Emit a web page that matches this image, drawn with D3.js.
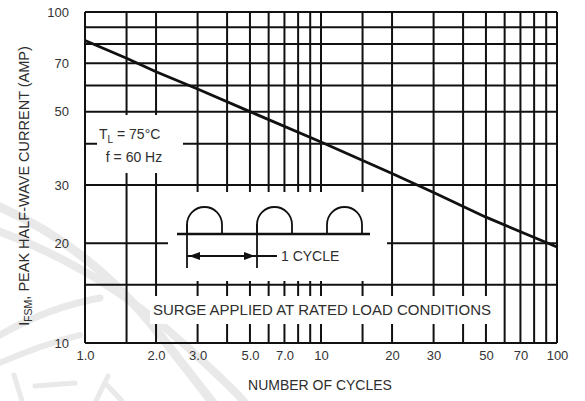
<!DOCTYPE html>
<html>
<head>
<meta charset="utf-8">
<script src="https://cdn.jsdelivr.net/npm/d3@7"></script>
<style>
  html, body { margin: 0; padding: 0; background: #fff; }
  svg { display: block; font-family: "Liberation Sans", Arial, sans-serif; }
</style>
</head>
<body>
<svg id="chart" width="585" height="401"></svg>
<script>
// Surge current vs. number of cycles (log-log)
const cycles = [1, 1.5, 2, 3, 5, 10, 20, 30, 50, 100];
const peakAmps = [82, 72.5, 66, 58.5, 50, 40.5, 32.5, 28.5, 24, 19.5];

const xGridValues = [1, 1.5, 2, 3, 4, 5, 6, 7, 8, 9, 10, 15, 20, 30, 40, 50, 60, 70, 80, 90, 100];
const yGridValues = [10, 15, 20, 30, 40, 50, 60, 70, 80, 90, 100];
const xTickValues = [1, 2, 3, 5, 7, 10, 20, 30, 50, 70, 100];
const xTickLabels = ["1.0", "2.0", "3.0", "5.0", "7.0", "10", "20", "30", "50", "70", "100"];
const yTickValues = [10, 20, 30, 50, 70, 100];
const yTickLabels = ["10", "20", "30", "50", "70", "100"];

const svg = d3.select("#chart");
const x = d3.scaleLog().domain([1, 100]).range([85, 557]);
const y = d3.scaleLog().domain([10, 100]).range([343, 12]);

// faint background watermark strokes
const wm = svg.append("g").attr("fill", "none").attr("stroke", "#e9e9e9").attr("stroke-linecap", "round");
wm.append("path").attr("d", "M-5,205 Q90,245 160,335 T215,405").attr("stroke-width", 9);
wm.append("path").attr("d", "M-5,230 Q100,268 185,345 T240,405").attr("stroke-width", 8);
wm.append("path").attr("d", "M-5,338 Q45,308 100,298").attr("stroke-width", 7);
wm.append("path").attr("d", "M-5,365 Q40,345 80,335").attr("stroke-width", 6);
wm.append("path").attr("d", "M35,386 L75,383").attr("stroke-width", 5);
wm.append("path").attr("d", "M108,376 L96,401 M106,384 L122,401").attr("stroke-width", 5);
wm.append("path").attr("d", "M14,375 L22,401").attr("stroke-width", 5);

// grid
const grid = svg.append("g").attr("stroke", "#111").attr("stroke-width", 2);
grid.selectAll("line.v").data(xGridValues).join("line")
  .attr("x1", d => x(d)).attr("x2", d => x(d))
  .attr("y1", y(100)).attr("y2", y(10));
grid.selectAll("line.h").data(yGridValues).join("line")
  .attr("x1", x(1)).attr("x2", x(100))
  .attr("y1", d => y(d)).attr("y2", d => y(d));

// white panels behind annotations
const panels = [
  [97, 115, 86, 58],    // test conditions
  [168, 192, 219, 89],  // waveform sketch
  [150, 296, 346, 28]   // surge note
];
svg.append("g").selectAll("rect").data(panels).join("rect")
  .attr("x", d => d[0]).attr("y", d => d[1]).attr("width", d => d[2]).attr("height", d => d[3])
  .attr("fill", "#fff");

// curve
svg.append("path")
  .datum(cycles.map((c, i) => [c, peakAmps[i]]))
  .attr("fill", "none").attr("stroke", "#111").attr("stroke-width", 2.8)
  .attr("d", d3.line().x(d => x(d[0])).y(d => y(d[1])));

// axes (labels only; grid provides the frame)
const xAxis = d3.axisBottom(x).tickValues(xTickValues)
  .tickFormat((d, i) => xTickLabels[i]).tickSize(0).tickPadding(8);
const gx = svg.append("g").attr("transform", `translate(0,${y(10)})`).call(xAxis);
const yAxis = d3.axisLeft(y).tickValues(yTickValues)
  .tickFormat((d, i) => yTickLabels[i]).tickSize(0).tickPadding(16);
const gy = svg.append("g").attr("transform", `translate(${x(1)},0)`).call(yAxis);
[gx, gy].forEach(g => {
  g.select(".domain").remove();
  g.selectAll("text").attr("font-size", 13).attr("fill", "#333")
    .attr("font-family", "'Liberation Sans', Arial, sans-serif");
});

const textColor = "#2e2e2e";

// axis titles
svg.append("text").attr("x", 320).attr("y", 390).attr("text-anchor", "middle")
  .attr("font-size", 14).attr("fill", textColor).text("NUMBER OF CYCLES");

const yt = svg.append("text").attr("transform", "translate(29,186) rotate(-90)")
  .attr("text-anchor", "middle").attr("font-size", 14.5).attr("fill", textColor);
yt.append("tspan").text("I");
yt.append("tspan").attr("font-size", 10.5).attr("dy", 3).text("FSM");
yt.append("tspan").attr("dy", -3).text(", PEAK HALF-WAVE CURRENT (AMP)");

// test conditions
const t1 = svg.append("text").attr("x", 99).attr("y", 139).attr("font-size", 14).attr("fill", textColor);
t1.append("tspan").text("T");
t1.append("tspan").attr("font-size", 10).attr("dy", 4).text("L");
t1.append("tspan").attr("dy", -4).text(" = 75°C");
svg.append("text").attr("x", 134).attr("y", 162).attr("text-anchor", "middle")
  .attr("font-size", 14).attr("fill", textColor).text("f = 60 Hz");

// waveform sketch: half-wave pulses on a baseline
const wave = svg.append("g").attr("fill", "none").attr("stroke", "#111").attr("stroke-width", 1.8);
const baseY = 234, pulseW = 35, pulseH = 27, period = 70, startX = 187;
wave.append("line").attr("x1", 177).attr("x2", 370).attr("y1", baseY).attr("y2", baseY).attr("stroke-width", 2.4);
[0, 1, 2].forEach(k => {
  const x0 = startX + k * period;
  wave.append("path")
    .attr("d", `M${x0},${baseY} L${x0},${baseY - pulseH + pulseW / 2} A${pulseW / 2},${pulseW / 2} 0 0 1 ${x0 + pulseW},${baseY - pulseH + pulseW / 2} L${x0 + pulseW},${baseY}`);
});
// one-cycle dimension
wave.append("line").attr("x1", startX).attr("x2", startX).attr("y1", baseY - 10).attr("y2", 268);
wave.append("line").attr("x1", startX + period).attr("x2", startX + period).attr("y1", baseY - 10).attr("y2", 268);
wave.append("line").attr("x1", startX).attr("x2", 277).attr("y1", 256).attr("y2", 256);
svg.append("path").attr("fill", "#111")
  .attr("d", `M${startX + 2},256 L${startX + 13},252 L${startX + 13},260 Z M${startX + period - 2},256 L${startX + period - 13},252 L${startX + period - 13},260 Z`);
svg.append("text").attr("x", 281).attr("y", 261).attr("font-size", 14).attr("fill", textColor).text("1 CYCLE");

// note
svg.append("text").attr("x", 322).attr("y", 315).attr("text-anchor", "middle")
  .attr("font-size", 14).attr("fill", textColor)
  .attr("textLength", 338).attr("lengthAdjust", "spacingAndGlyphs")
  .text("SURGE APPLIED AT RATED LOAD CONDITIONS");
</script>
</body>
</html>
